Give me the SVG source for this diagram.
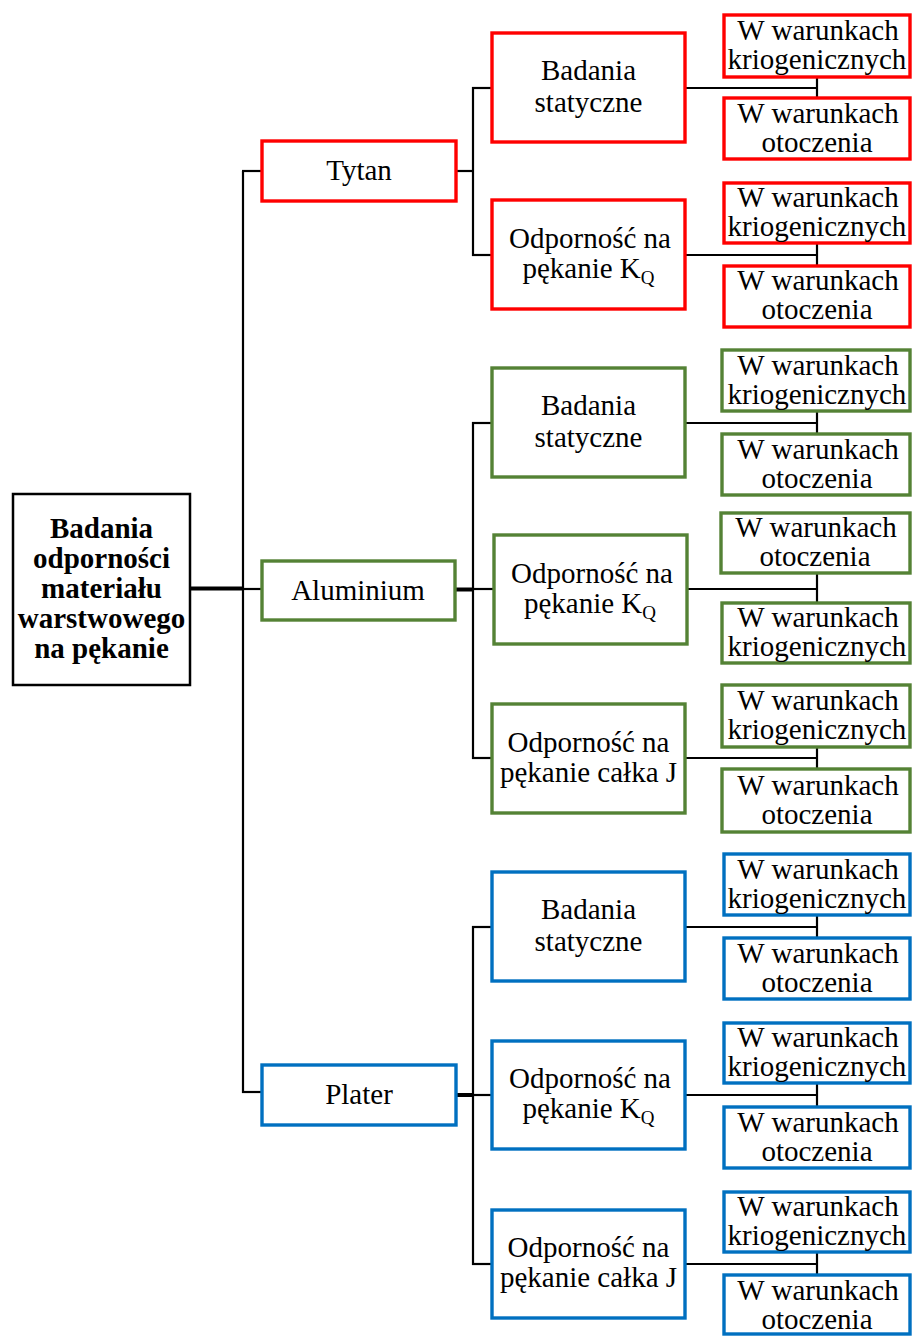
<svg xmlns="http://www.w3.org/2000/svg" width="912" height="1336" viewBox="0 0 912 1336">
<style>
text{font-family:"Liberation Serif","Times New Roman",serif;font-size:29px;fill:#000;text-anchor:middle}
.b{font-weight:bold}
rect{fill:#fff;stroke-width:3.4}
.root{stroke:#000;stroke-width:2.5}
.red{stroke:#FF0000}
.grn{stroke:#548235}
.blu{stroke:#0070C0}
.c line{stroke:#000;stroke-width:2.2}
.c line.t{stroke-width:4}
.sub{font-size:19px}
</style>
<rect width="912" height="1336" fill="#fff" stroke="none"/>
<g class="c" id="connectors">
<!-- root -->
<line class="t" x1="190" y1="588.5" x2="243" y2="588.5"/>
<line x1="243" y1="589" x2="263" y2="589"/>
<line x1="243" y1="171" x2="243" y2="1093"/>
<line x1="242" y1="171" x2="262" y2="171"/>
<line x1="242" y1="1092" x2="262" y2="1092"/>
<!-- Tytan -->
<line x1="456" y1="171" x2="474" y2="171"/>
<line x1="473" y1="87" x2="473" y2="256"/>
<line x1="472" y1="88" x2="492" y2="88"/>
<line x1="472" y1="255" x2="492" y2="255"/>
<line x1="685" y1="88" x2="818" y2="88"/>
<line x1="817" y1="77" x2="817" y2="98"/>
<line x1="685" y1="255" x2="818" y2="255"/>
<line x1="817" y1="243" x2="817" y2="266"/>
<!-- Aluminium -->
<line class="t" x1="455" y1="589.5" x2="474" y2="589.5"/>
<line x1="473" y1="422" x2="473" y2="759"/>
<line x1="472" y1="423" x2="492" y2="423"/>
<line x1="472" y1="589" x2="494" y2="589"/>
<line x1="472" y1="758" x2="492" y2="758"/>
<line x1="685" y1="423" x2="818" y2="423"/>
<line x1="817" y1="411" x2="817" y2="434"/>
<line x1="687" y1="589" x2="818" y2="589"/>
<line x1="817" y1="573" x2="817" y2="603"/>
<line x1="685" y1="758" x2="818" y2="758"/>
<line x1="817" y1="747" x2="817" y2="769"/>
<!-- Plater -->
<line class="t" x1="455" y1="1095" x2="474" y2="1095"/>
<line x1="473" y1="926" x2="473" y2="1265"/>
<line x1="472" y1="927" x2="492" y2="927"/>
<line x1="472" y1="1095" x2="492" y2="1095"/>
<line x1="472" y1="1264" x2="492" y2="1264"/>
<line x1="685" y1="927" x2="818" y2="927"/>
<line x1="817" y1="915" x2="817" y2="938"/>
<line x1="685" y1="1095" x2="818" y2="1095"/>
<line x1="817" y1="1083" x2="817" y2="1107"/>
<line x1="685" y1="1264" x2="818" y2="1264"/>
<line x1="817" y1="1252" x2="817" y2="1275"/>
</g>

<g id="root"><rect class="root" x="13" y="494" width="177" height="191"/>
<text class="b" x="101.5" y="538">Badania</text>
<text class="b" x="101.5" y="568">odporności</text>
<text class="b" x="101.5" y="598">materiału</text>
<text class="b" x="101.5" y="628">warstwowego</text>
<text class="b" x="101.5" y="658">na pękanie</text></g>

<g id="tytan"><rect class="red" x="262" y="141" width="194" height="60"/><text x="359" y="180">Tytan</text></g>
<g id="aluminium"><rect class="grn" x="262" y="561" width="193" height="59"/><text x="358" y="600">Aluminium</text></g>
<g id="plater"><rect class="blu" x="262" y="1065" width="194" height="60"/><text x="359" y="1104">Plater</text></g>

<!-- Tytan mids -->
<g id="t-stat"><rect class="red" x="492" y="33" width="193" height="109"/><text x="588.5" y="80">Badania</text><text x="588.5" y="112">statyczne</text></g>
<g id="t-kq"><rect class="red" x="492" y="200" width="193" height="109"/><text x="590" y="248">Odporność na</text><text x="588.5" y="278">pękanie K<tspan class="sub" dy="6">Q</tspan></text></g>
<!-- Tytan leaves -->
<g id="t-l1"><rect class="red" x="724" y="15" width="186" height="62"/><text x="818" y="40">W warunkach</text><text x="817" y="69">kriogenicznych</text></g>
<g id="t-l2"><rect class="red" x="724" y="98" width="186" height="61"/><text x="818" y="123">W warunkach</text><text x="817" y="152">otoczenia</text></g>
<g id="t-l3"><rect class="red" x="724" y="183" width="186" height="60"/><text x="818" y="207">W warunkach</text><text x="817" y="236">kriogenicznych</text></g>
<g id="t-l4"><rect class="red" x="724" y="266" width="186" height="61"/><text x="818" y="290">W warunkach</text><text x="817" y="319">otoczenia</text></g>

<!-- Aluminium mids -->
<g id="a-stat"><rect class="grn" x="492" y="368" width="193" height="109"/><text x="588.5" y="415">Badania</text><text x="588.5" y="447">statyczne</text></g>
<g id="a-kq"><rect class="grn" x="494" y="535" width="193" height="109"/><text x="592" y="583">Odporność na</text><text x="590" y="613">pękanie K<tspan class="sub" dy="6">Q</tspan></text></g>
<g id="a-j"><rect class="grn" x="492" y="704" width="193" height="109"/><text x="588.5" y="752">Odporność na</text><text x="588.5" y="782">pękanie całka J</text></g>
<!-- Aluminium leaves -->
<g id="a-l1"><rect class="grn" x="722" y="350" width="188" height="61"/><text x="818" y="375">W warunkach</text><text x="817" y="404">kriogenicznych</text></g>
<g id="a-l2"><rect class="grn" x="722" y="434" width="188" height="61"/><text x="818" y="459">W warunkach</text><text x="817" y="488">otoczenia</text></g>
<g id="a-l3"><rect class="grn" x="721" y="513" width="189" height="60"/><text x="816" y="537">W warunkach</text><text x="815" y="566">otoczenia</text></g>
<g id="a-l4"><rect class="grn" x="722" y="603" width="188" height="60"/><text x="818" y="627">W warunkach</text><text x="817" y="656">kriogenicznych</text></g>
<g id="a-l5"><rect class="grn" x="722" y="685" width="188" height="62"/><text x="818" y="710">W warunkach</text><text x="817" y="739">kriogenicznych</text></g>
<g id="a-l6"><rect class="grn" x="722" y="769" width="188" height="63"/><text x="818" y="795">W warunkach</text><text x="817" y="824">otoczenia</text></g>

<!-- Plater mids -->
<g id="p-stat"><rect class="blu" x="492" y="872" width="193" height="109"/><text x="588.5" y="919">Badania</text><text x="588.5" y="951">statyczne</text></g>
<g id="p-kq"><rect class="blu" x="492" y="1041" width="193" height="108"/><text x="590" y="1088">Odporność na</text><text x="588.5" y="1118">pękanie K<tspan class="sub" dy="6">Q</tspan></text></g>
<g id="p-j"><rect class="blu" x="492" y="1210" width="193" height="108"/><text x="588.5" y="1257">Odporność na</text><text x="588.5" y="1287">pękanie całka J</text></g>
<!-- Plater leaves -->
<g id="p-l1"><rect class="blu" x="724" y="854" width="186" height="61"/><text x="818" y="879">W warunkach</text><text x="817" y="908">kriogenicznych</text></g>
<g id="p-l2"><rect class="blu" x="724" y="938" width="186" height="61"/><text x="818" y="963">W warunkach</text><text x="817" y="992">otoczenia</text></g>
<g id="p-l3"><rect class="blu" x="724" y="1023" width="186" height="60"/><text x="818" y="1047">W warunkach</text><text x="817" y="1076">kriogenicznych</text></g>
<g id="p-l4"><rect class="blu" x="724" y="1107" width="186" height="61"/><text x="818" y="1132">W warunkach</text><text x="817" y="1161">otoczenia</text></g>
<g id="p-l5"><rect class="blu" x="724" y="1192" width="186" height="60"/><text x="818" y="1216">W warunkach</text><text x="817" y="1245">kriogenicznych</text></g>
<g id="p-l6"><rect class="blu" x="724" y="1275" width="186" height="59"/><text x="818" y="1300">W warunkach</text><text x="817" y="1329">otoczenia</text></g>
</svg>
